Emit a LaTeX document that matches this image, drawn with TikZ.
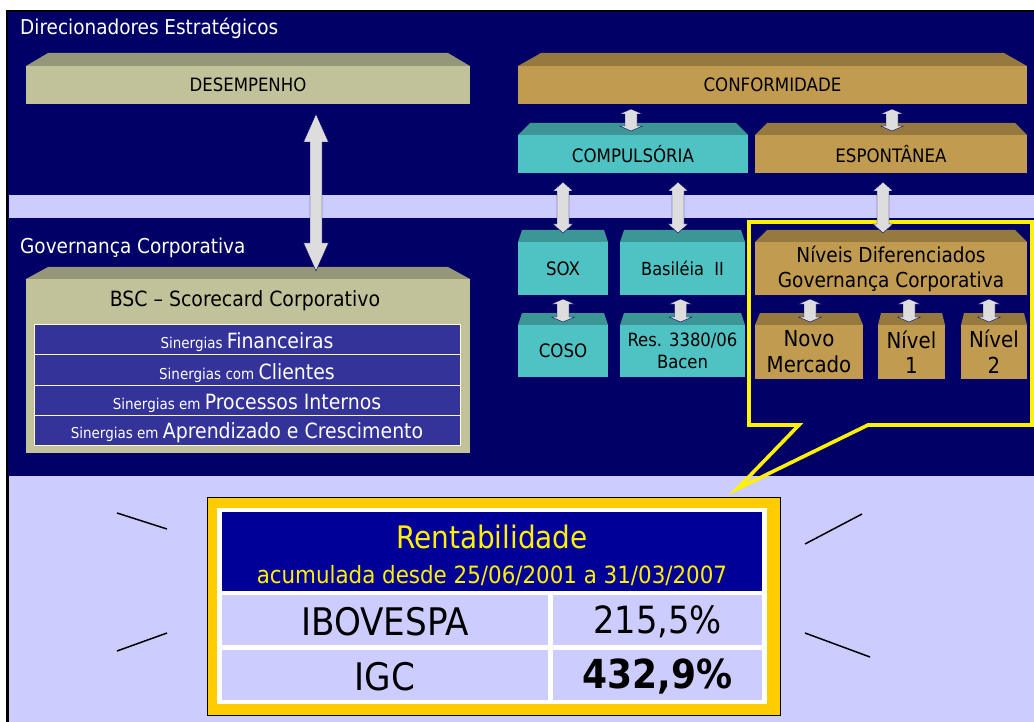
\documentclass[tikz,border=0pt]{standalone}
\usepackage{fontspec}
\setmainfont{DejaVu Sans Condensed}[BoldFont={DejaVu Sans Condensed Bold}]
\usetikzlibrary{calc}
\definecolor{navybg}{HTML}{000066}
\definecolor{lav}{HTML}{CCCCFF}
\definecolor{gold}{HTML}{FFCC00}
\definecolor{hdrblue}{HTML}{000099}
\definecolor{rowblue}{HTML}{333399}
\definecolor{paleyel}{HTML}{FFFFCC}
\definecolor{arrowgray}{HTML}{DDDDDD}
\definecolor{boxkhaki}{HTML}{C2C29A}
\definecolor{boxkhakitop}{HTML}{969678}
\definecolor{boxtan}{HTML}{C19B4F}
\definecolor{boxtantop}{HTML}{96793F}
\definecolor{boxteal}{HTML}{4FC3C3}
\definecolor{boxtealtop}{HTML}{3D9696}
\newcommand\fs[1]{\fontsize{#1}{#1}\selectfont}
\newcommand\lowered[2]{\raisebox{-#1pt}[\height][\depth]{#2}}
\tikzset{
  frontface/.style={inner sep=0pt,outer sep=0pt,align=center,text=black},
  linktip/.style={fill=arrowgray,draw=navybg,line width=0.4pt,line join=miter},
  rowcell/.style={fill=rowblue,draw=paleyel,line width=1pt,inner sep=0pt,text=white,align=center},
  tablecell/.style={fill=lav,inner sep=0pt,text=black,align=center},
  ray/.style={draw=black,line width=1.5pt},
  sectionlabel/.style={text=white,anchor=west,inner sep=0pt},
}
% name, x0, x1, ytop, yfront, ybottom, colour, inset, text
\newcommand\solidbox[9]{%
  \fill[#7top] (#2,#5) -- ({#2+#8},#4) -- ({#3-#8},#4) -- (#3,#5) -- cycle;
  \node[frontface,fill=#7,minimum width={(#3-#2)*1pt},minimum height={(#6-#5)*1pt}]
    (#1) at ({(#2+#3)/2},{(#5+#6)/2}) {#9};
}
% top point, bottom point, half shaft, half head, head length
\newcommand\linkarrow[5]{%
  \path[linktip] let \p1=(#1), \p2=(#2) in
    (\x1,\y1) -- (\x1+#4pt,\y1-#5pt) -- (\x1+#3pt,\y1-#5pt) -- (\x1+#3pt,\y2+#5pt)
    -- (\x1+#4pt,\y2+#5pt) -- (\x1,\y2) -- (\x1-#4pt,\y2+#5pt) -- (\x1-#3pt,\y2+#5pt)
    -- (\x1-#3pt,\y1-#5pt) -- (\x1-#4pt,\y1-#5pt) -- cycle;
}
\begin{document}
\begin{tikzpicture}[x=1pt,y=-1pt]
\useasboundingbox (0,0) rectangle (1034,722);
\fill[white] (0,0) rectangle (1034,722);
\fill[black] (6,10) rectangle (1034,722);
\fill[navybg] (8,12) rectangle (1034,476);
\fill[lav] (9,195) rectangle (1034,218);
\fill[lav] (9,476) rectangle (1034,722);

\node[sectionlabel] (dirlabel) at (20,28) {\fs{20.5}Direcionadores Estratégicos};
\node[sectionlabel] (govlabel) at (20,247.5) {\fs{20.5}Governança Corporativa};

\solidbox{desemp}{26}{470}{53}{66}{104}{boxkhaki}{22}{\fs{18.4}DESEMPENHO}
\solidbox{bsc}{26}{470}{267}{279}{453}{boxkhaki}{22}{}
\node[frontface] (bsctitle) at (245,301) {\fs{21}BSC – Scorecard Corporativo};
\node[rowcell,minimum width=426pt,minimum height=30pt] (r1) at (247,339.5) {\lowered{3}{\fs{15}Sinergias \fs{21}Financeiras}};
\node[rowcell,minimum width=426pt,minimum height=31pt] (r2) at (247,370) {\lowered{3}{\fs{15}Sinergias com \fs{21}Clientes}};
\node[rowcell,minimum width=426pt,minimum height=30pt] (r3) at (247,400.5) {\lowered{3}{\fs{15}Sinergias em \fs{21}Processos Internos}};
\node[rowcell,minimum width=426pt,minimum height=30pt] (r4) at (247,430) {\lowered{3}{\fs{15}Sinergias em \fs{21}Aprendizado e Crescimento}};

\solidbox{conf}{518}{1027}{53}{66}{104}{boxtan}{23}{\fs{18.5}CONFORMIDADE}
\solidbox{comp}{518}{748}{123}{135}{173}{boxteal}{12}{\fs{18.5}COMPULSÓRIA}
\solidbox{esp}{755}{1027}{123}{135}{173}{boxtan}{12}{\fs{18.5}ESPONTÂNEA}
\solidbox{sox}{518}{608}{230}{242}{295}{boxteal}{4}{\fs{18.5}SOX}
\solidbox{bas}{620}{745}{230}{242}{295}{boxteal}{4}{\fs{18}Basiléia\ \ II}
\solidbox{coso}{518}{608}{313}{325}{377}{boxteal}{4}{\fs{18.5}COSO}
\solidbox{res}{620}{745}{313}{325}{377}{boxteal}{4}{\fs{18.3}Res. 3380/06\\[6pt]\fs{18.3}Bacen}

\draw[yellow,line width=3.6pt,line join=miter,miter limit=20]
  (749,222) -- (1032,222) -- (1032,425) -- (868,425) -- (737,489) -- (799,425) -- (749,425) -- cycle;

\solidbox{niv}{755}{1027}{230}{242}{295}{boxtan}{12}{\fs{20.6}Níveis Diferenciados\\[8pt]\fs{20.6}Governança Corporativa}
\solidbox{novo}{755}{863}{313}{325}{379}{boxtan}{5}{\fs{22}Novo\\[8pt]\fs{22}Mercado}
\solidbox{n1}{878}{945}{313}{325}{379}{boxtan}{3}{\fs{22}Nível\\[8pt]\fs{22}1}
\solidbox{n2}{961}{1027}{313}{325}{379}{boxtan}{3}{\fs{22}Nível\\[8pt]\fs{22}2}

% connectors
\linkarrow{$(desemp.south)+(68,10)$}{$(bsc.north)+(68,-8)$}{6}{12.5}{28}
\linkarrow{$(conf.south)+(-141.5,5)$}{$(comp.north)+(-2,-4)$}{6}{11.5}{5}
\linkarrow{$(conf.south)+(119.5,5)$}{$(esp.north)+(1,-4)$}{6}{11.5}{5}
\linkarrow{$(comp.south)+(-70,9)$}{$(sox.north)+(0,-9)$}{6}{10}{9}
\linkarrow{$(comp.south)+(45,9)$}{$(bas.north)+(-4.5,-9)$}{6}{10}{9}
\linkarrow{$(esp.south)+(-8,9)$}{$(niv.north)+(-8,-9)$}{6}{10}{9}
\linkarrow{$(sox.south)+(0,4)$}{$(coso.north)+(0,-3)$}{6}{11.5}{5}
\linkarrow{$(bas.south)+(-2,4)$}{$(res.north)+(-2,-3)$}{6}{11.5}{5}
\linkarrow{$(niv.south)+(-81,4)$}{$(novo.north)+(1,-3)$}{6}{11.5}{5}
\linkarrow{$(niv.south)+(18,4)$}{$(n1.north)+(-2.5,-3)$}{6}{11.5}{5}
\linkarrow{$(niv.south)+(98,4)$}{$(n2.north)+(-5,-3)$}{6}{11.5}{5}

% result panel
\draw[fill=gold,draw=black,line width=1pt] (207,497) rectangle (780,715);
\fill[white] (217,508) rectangle (767,704);
\node[fill=hdrblue,inner sep=0pt,minimum width=540pt,minimum height=79pt] (hdr) at (492,551.5) {};
\node[text=yellow,inner sep=0pt] (hdrtitle) at (492,537) {\fs{31}Rentabilidade};
\node[text=yellow,inner sep=0pt] (hdrsub) at (492,576) {\fs{23.8}acumulada desde 25/06/2001 a 31/03/2007};
\node[tablecell,minimum width=326pt,minimum height=50pt] (c11) at (385,620) {\lowered{1.5}{\fs{38}IBOVESPA}};
\node[tablecell,minimum width=209pt,minimum height=50pt] (c12) at (657.5,620) {\lowered{1.5}{\fs{37.5}215,5\%}};
\node[tablecell,minimum width=326pt,minimum height=50pt] (c21) at (385,675) {\lowered{1.5}{\fs{38}IGC}};
\node[tablecell,minimum width=209pt,minimum height=50pt] (c22) at (657.5,675) {\lowered{1.5}{\fs{40}\bfseries 432,9\%}};

\draw[ray] (117,513) -- (167,529);
\draw[ray] (805,544) -- (862,514);
\draw[ray] (117,651) -- (167,633);
\draw[ray] (805,633) -- (870,657);
\end{tikzpicture}
\end{document}
